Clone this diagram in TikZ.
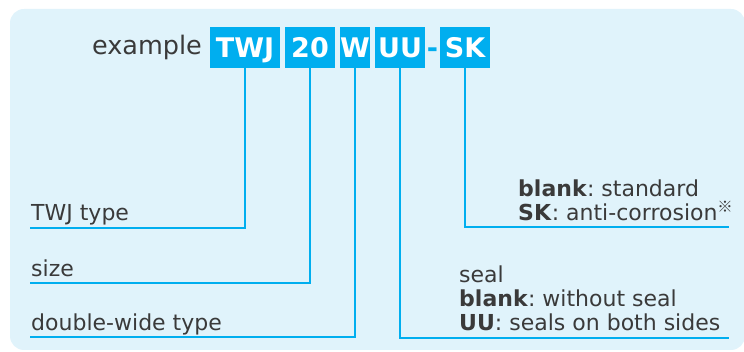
\documentclass[tikz,border=0pt]{standalone}
\usepackage{fontspec}
\setmainfont{DejaVu Sans}
\newfontfamily\cjkfont{Noto Sans CJK JP}
\usetikzlibrary{positioning}
\definecolor{panelblue}{HTML}{E0F3FB}
\definecolor{codecyan}{HTML}{00AEEF}
\definecolor{txtgray}{HTML}{3A3A3A}
\frenchspacing

\begin{document}
\begin{tikzpicture}[x=1pt, y=-1pt,
  codebox/.style={fill=codecyan, text=white, font=\fontsize{27}{27}\selectfont\bfseries,
    minimum height=41pt, inner sep=0pt, outer sep=0pt, text height=19.5pt, text depth=0pt},
  codeline/.style={codecyan, line width=2pt},
  desc/.style={text=txtgray, font=\fontsize{22}{24}\selectfont, inner sep=0pt,
    anchor=base west, align=left}]

\useasboundingbox (0,0) rectangle (744,352);

% =====================================================
% Panel
% =====================================================
\fill[panelblue, rounded corners=14pt] (10,9) rectangle (745,350);

% =====================================================
% Part number: example TWJ 20 W UU-SK
% =====================================================
\node[codebox, minimum width=70pt] (twj) at (245,47.5) {TWJ};
\node[codebox, minimum width=50pt, right=5pt of twj] (size) {20};
\node[codebox, minimum width=30pt, right=5pt of size] (wide) {W};
\node[codebox, minimum width=50pt, right=5pt of wide] (seal) {UU};
\node[codebox, fill=none, text=codecyan, minimum width=15pt, right=0pt of seal] (dash) {-};
\node[codebox, minimum width=50pt, right=0pt of dash] (sk) {SK};
\node[text=txtgray, font=\fontsize{25.5}{25.5}\selectfont, inner sep=0pt, left=8pt of twj] (example) {example};

% =====================================================
% Leader lines
% =====================================================
\coordinate (twjend) at (30,227.7);
\coordinate (sizeend) at (30,282.7);
\coordinate (wideend) at (30,337.3);
\coordinate (sealend) at (729,337.7);
\coordinate (skend) at (729,227.3);

\draw[codeline] (twj.south) |- (twjend);
\draw[codeline] (size.south) |- (sizeend);
\draw[codeline] (wide.south) |- (wideend);
\draw[codeline] (seal.south) |- (sealend);
\draw[codeline] (sk.south) |- (skend);

% =====================================================
% Descriptions
% =====================================================
\node[desc] (twjlabel) at (31,221) {TWJ type};
\node[desc] (sizelabel) at (31,276.2) {size};
\node[desc] (widelabel) at (31,330.8) {double-wide type};

% Seal (three lines, placed by the last baseline)
\node[desc] (seallabel) at (459,330.5) {seal\\\textbf{blank}: without seal\\\textbf{UU}: seals on both sides};

% Surface treatment (two lines)
\node[desc] (sklabel) at (518,220.5) {\textbf{blank}: standard\\\textbf{SK}: anti-corrosion\textsuperscript{\cjkfont ※}};

\end{tikzpicture}
\end{document}
